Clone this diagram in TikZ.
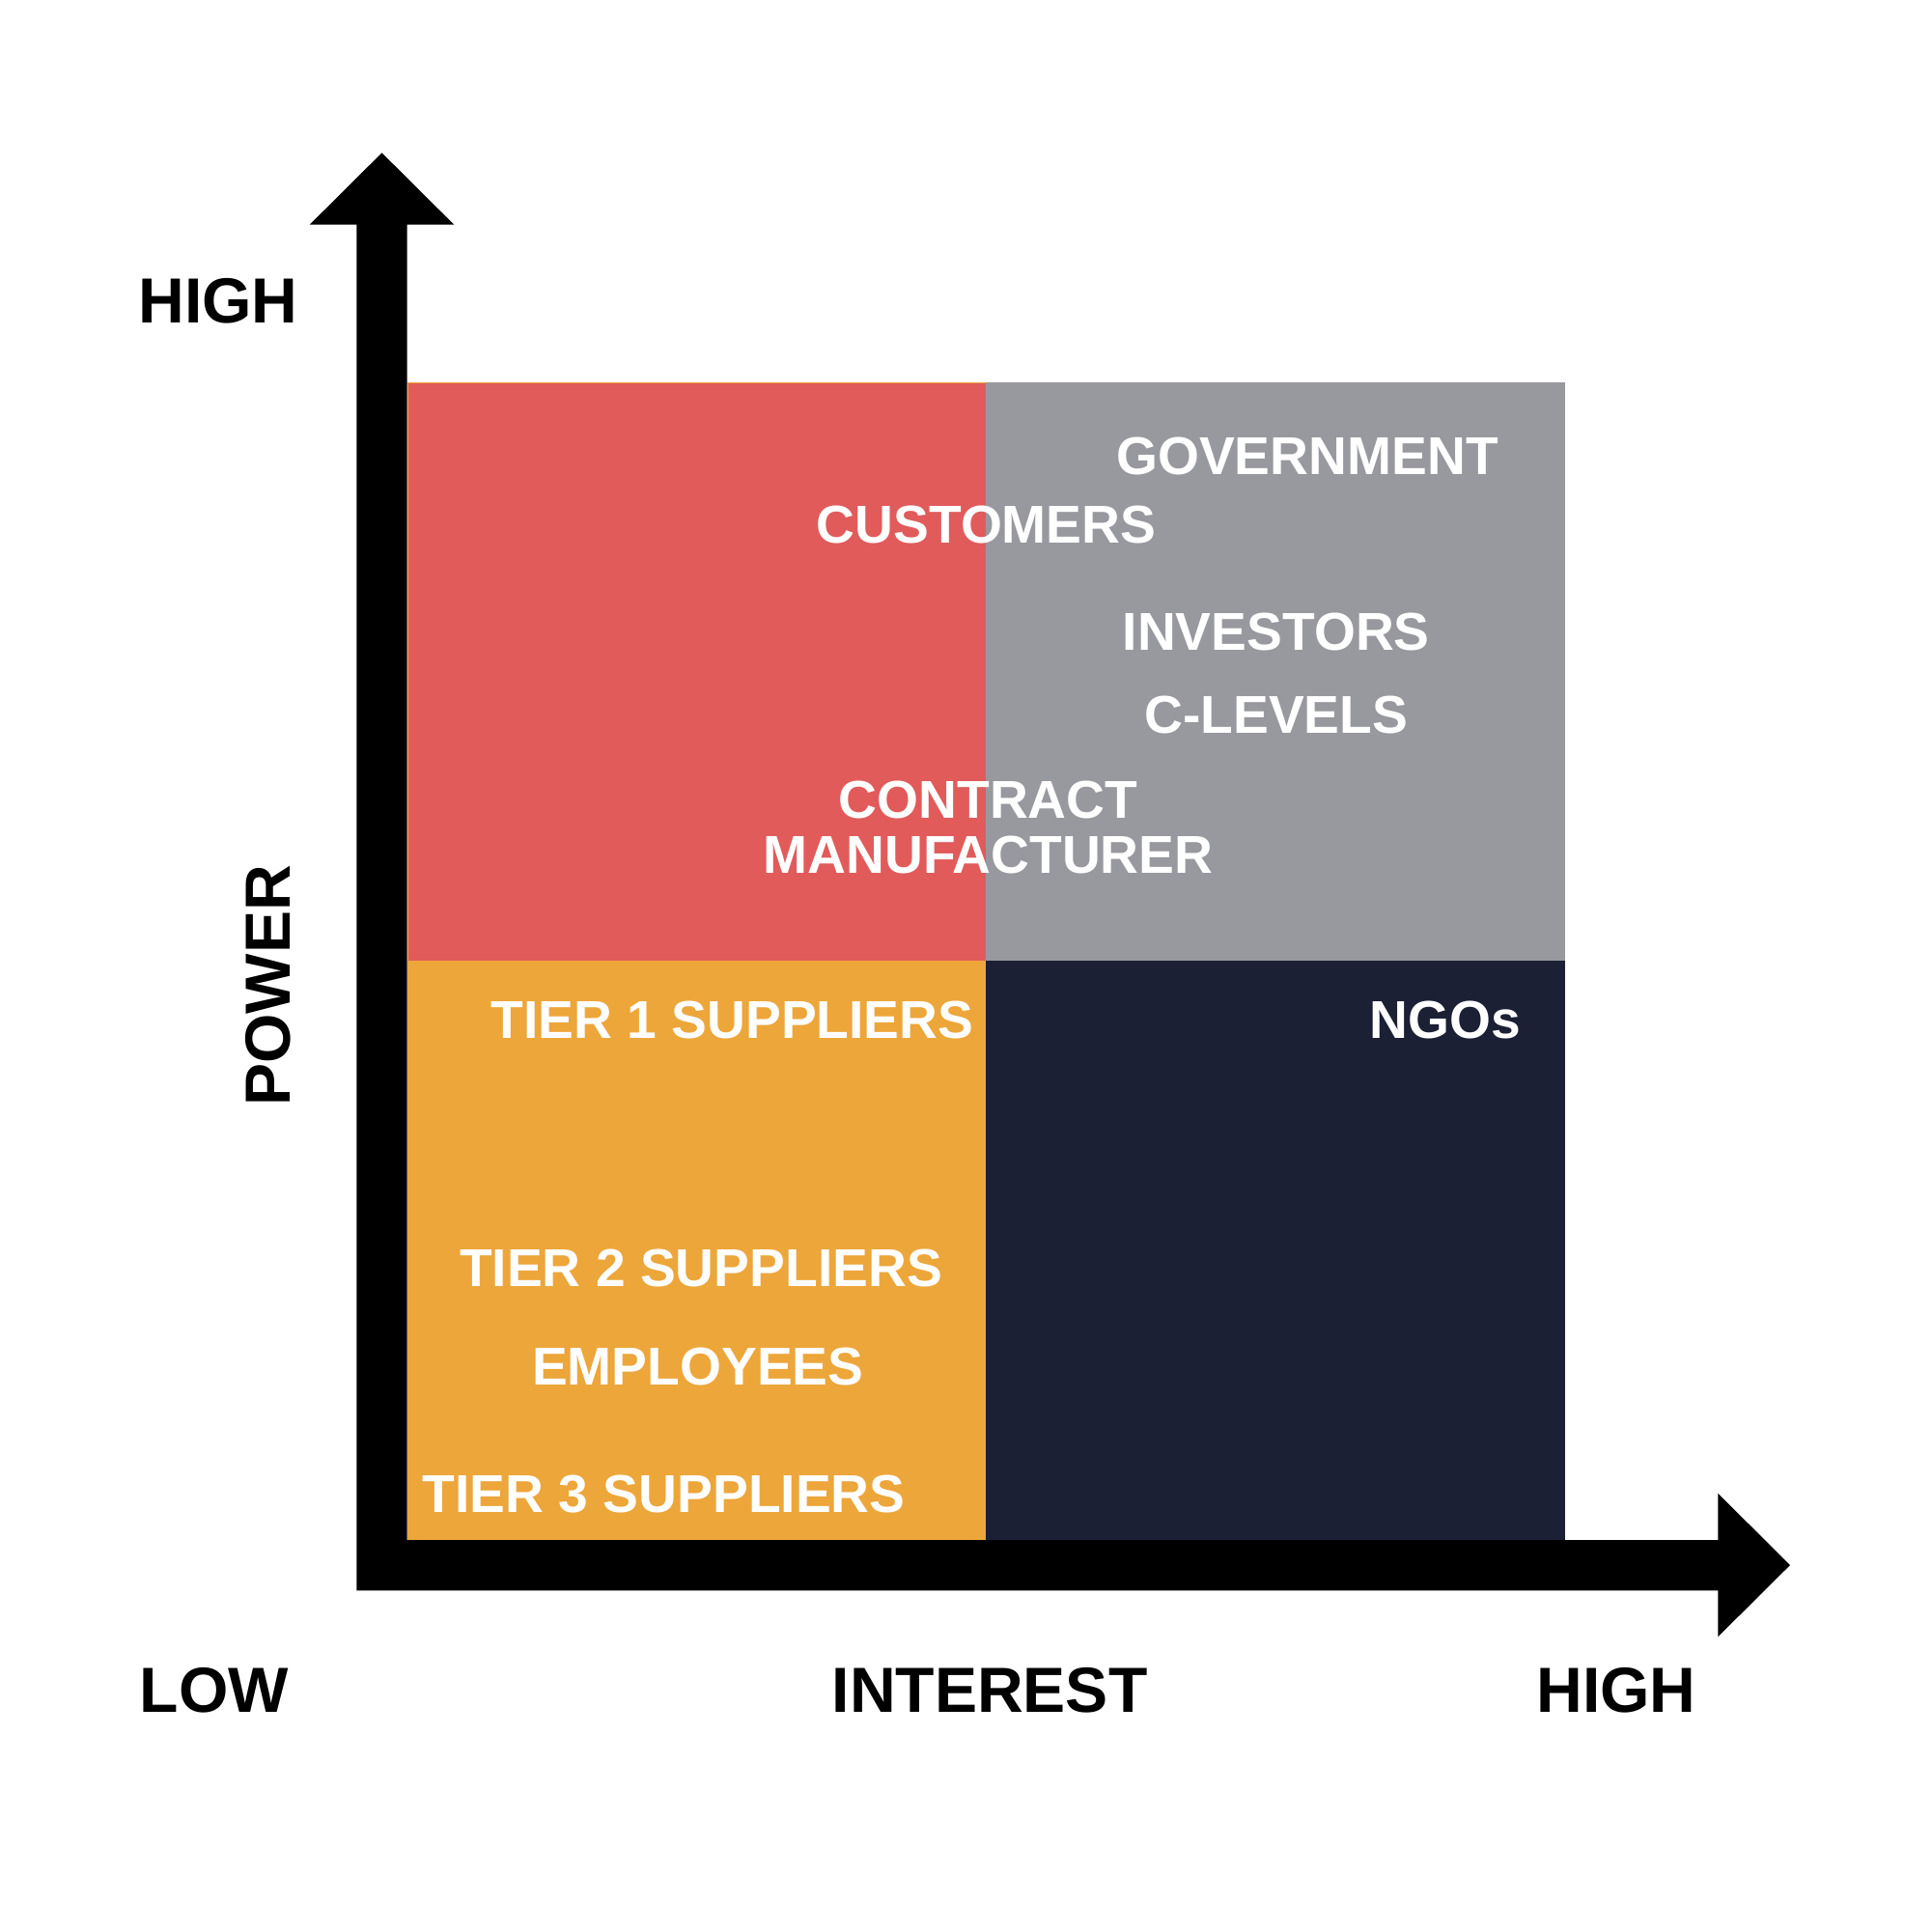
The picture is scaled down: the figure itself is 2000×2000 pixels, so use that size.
\documentclass[tikz,border=0pt]{standalone}
\usepackage{fontspec}
\setmainfont{Liberation Sans}
\definecolor{quadred}{HTML}{E15B5B}
\definecolor{quadgray}{HTML}{98999F}
\definecolor{quadnavy}{HTML}{1B2034}
\definecolor{quadorange}{HTML}{EDA63A}
\begin{document}
\begin{tikzpicture}[x=0.1mm, y=-0.1mm,
  axislabel/.style={font=\fontsize{18.8}{23}\selectfont\bfseries, text=black, inner sep=0pt},
  holder/.style={font=\fontsize{15.7}{16.3}\selectfont\bfseries, text=white, inner sep=0pt, align=center}]
  \useasboundingbox (0,0) rectangle (2000,2000);

  \fill[quadorange] (421.7,395.7) rectangle (1021,1595);
  \fill[quadred] (422.6,397) rectangle (1021,995);
  \fill[quadgray] (1021,395.7) rectangle (1621,995);
  \fill[quadnavy] (1021,995) rectangle (1621,1595);

  % axes
  \fill (369.3,1647.3) -- (369.3,232.7) -- (320.7,232.7) -- (395.5,158.3) -- (470.3,232.7)
    -- (421.7,232.7) -- (421.7,1595) -- (1779.3,1595) -- (1779.3,1546.7) -- (1854,1621)
    -- (1779.3,1695.3) -- (1779.3,1647.3) -- cycle;

  \node[axislabel] (power-high) at (226,312) {HIGH};
  \node[axislabel, rotate=90] (power) at (278,1021) {POWER};
  \node[axislabel] (low) at (222,1751) {LOW};
  \node[axislabel] (interest) at (1025,1751) {INTEREST};
  \node[axislabel] (interest-high) at (1674,1751) {HIGH};

  \node[holder] (government) at (1354,472.5) {GOVERNMENT};
  \node[holder] (customers) at (1021.6,543.4) {CUSTOMERS};
  \node[holder] (investors) at (1321.7,654.5) {INVESTORS};
  \node[holder] (clevels) at (1321.7,740) {C-LEVELS};
  \node[holder] (manufacturer) at (1023.5,857) {CONTRACT\\MANUFACTURER};
  \node[holder] (tier1) at (758.5,1056.7) {TIER 1 SUPPLIERS};
  \node[holder] (ngos) at (1496.6,1056.7) {NGOs};
  \node[holder] (tier2) at (726,1313.4) {TIER 2 SUPPLIERS};
  \node[holder] (employees) at (722.8,1415.6) {EMPLOYEES};
  \node[holder] (tier3) at (687.7,1547.1) {TIER 3 SUPPLIERS};
\end{tikzpicture}
\end{document}
